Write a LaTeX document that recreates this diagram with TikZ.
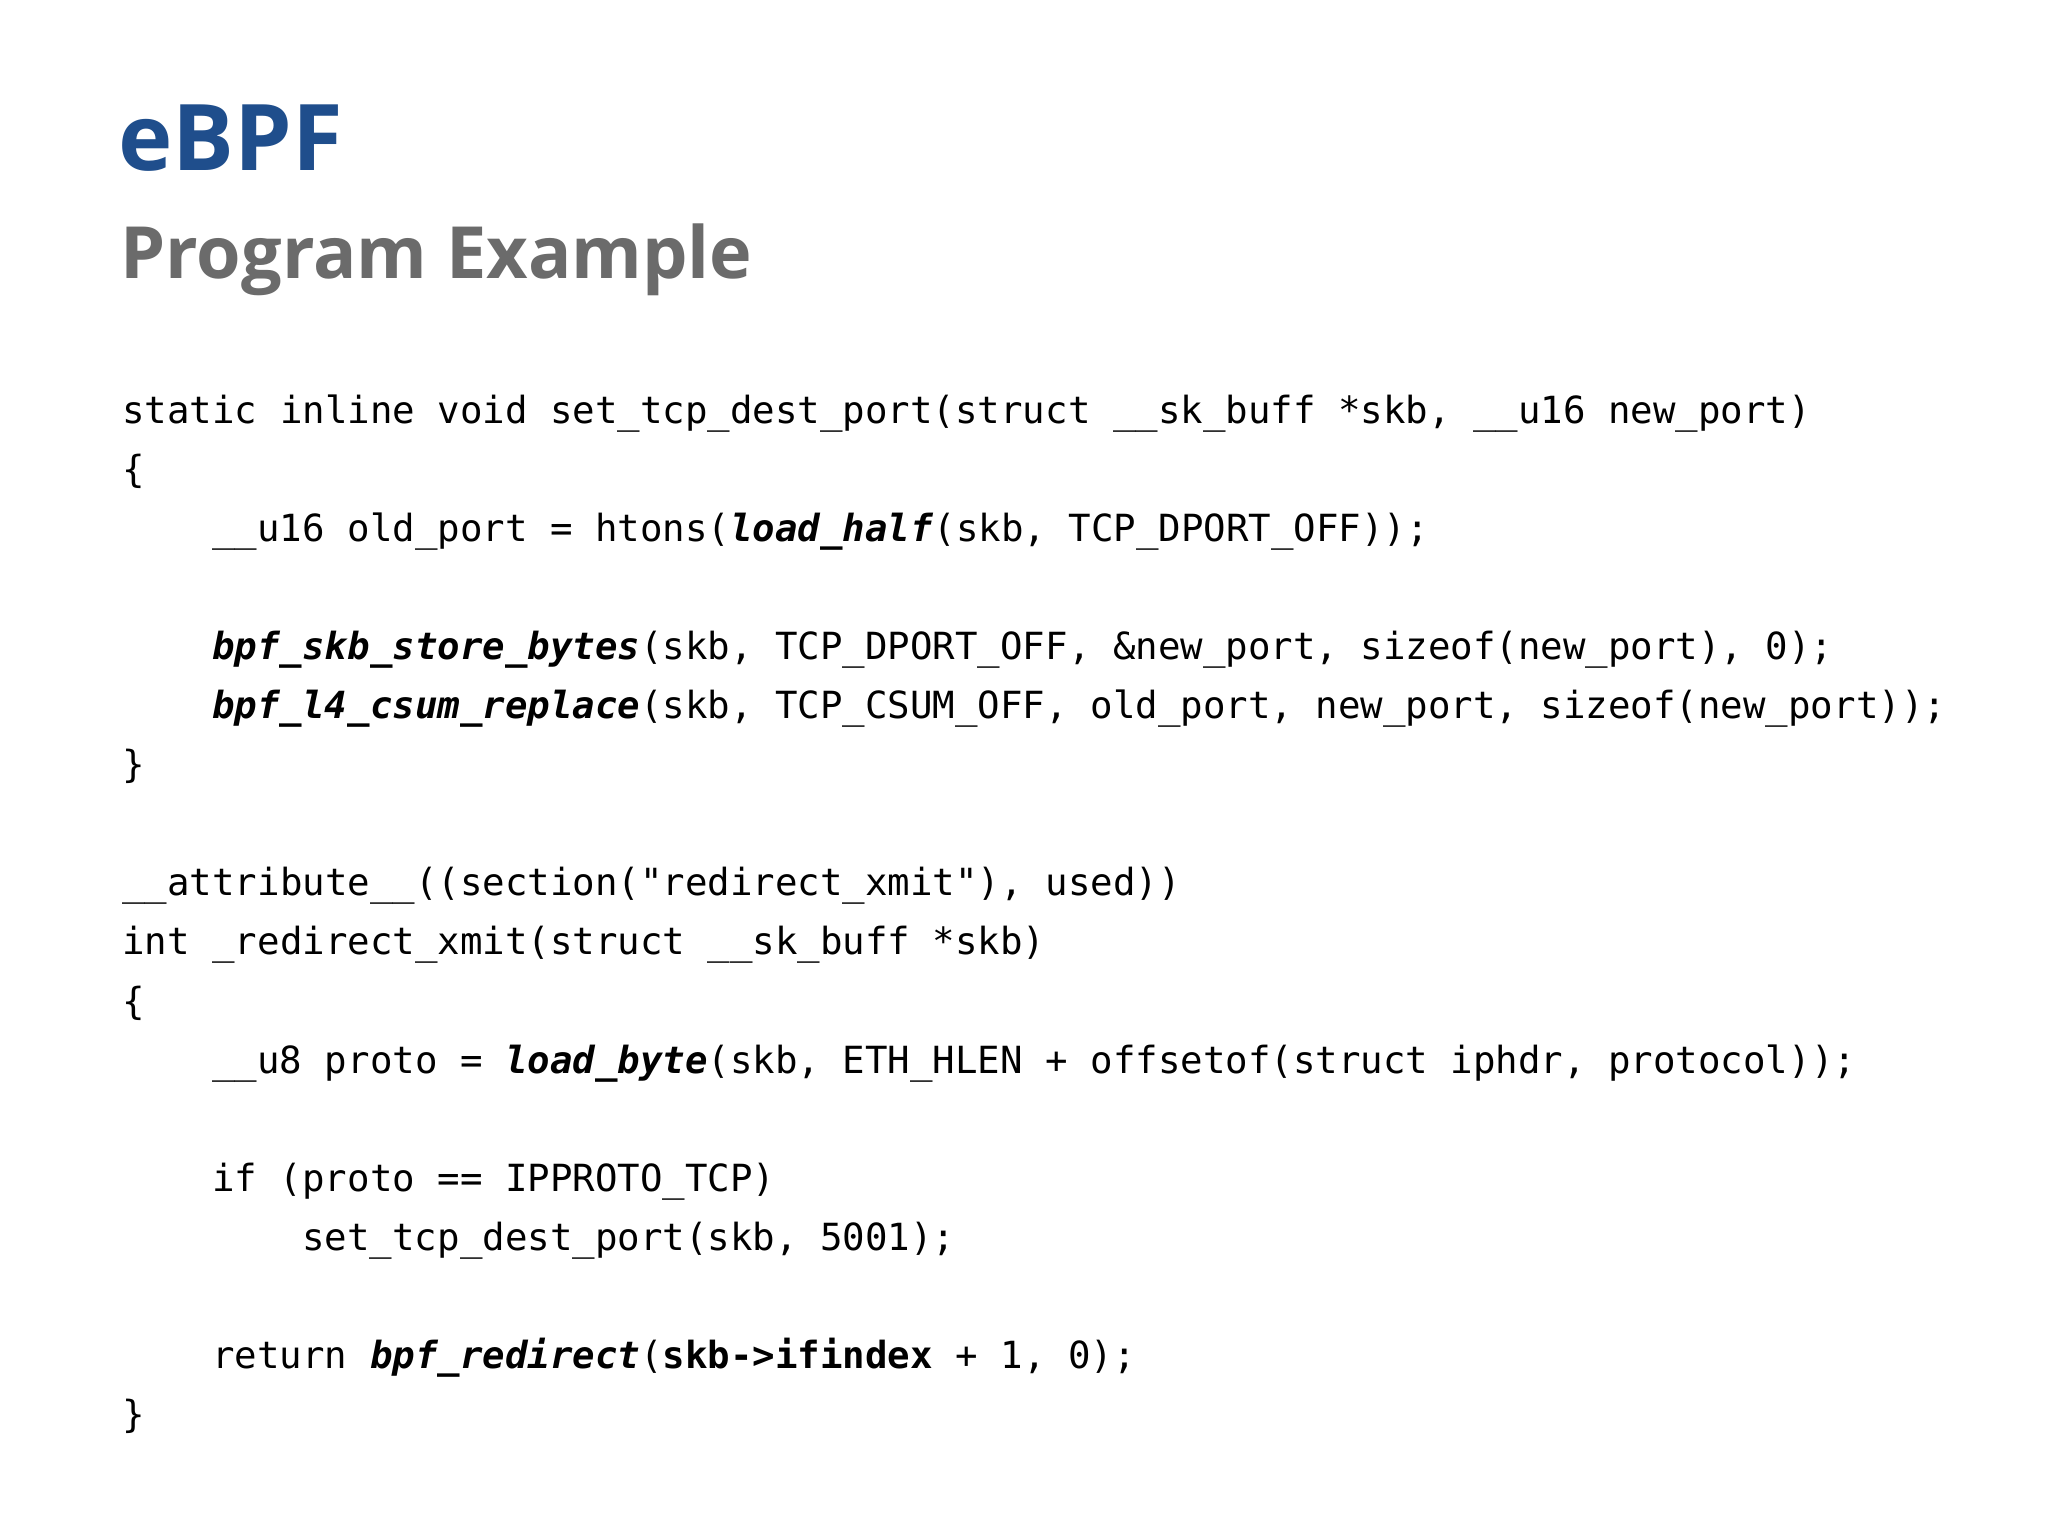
\documentclass[tikz,border=0pt]{standalone}
\usepackage{fontspec}
\setmainfont{Open Sans}
\setmonofont{DejaVu Sans Mono}
\definecolor{titleblue}{HTML}{1F4E8C}
\definecolor{titlegray}{HTML}{6B6B6B}
\newcommand{\fn}[1]{\textbf{\textit{#1}}}
\begin{document}
\begin{tikzpicture}[x=0.5pt,y=-0.5pt,
  code/.style={anchor=base west,inner sep=0pt,font=\ttfamily\fontsize{18.7}{20}\selectfont,text=black}]
\fill[white] (0,0) rectangle (2048,1536);
\useasboundingbox (0,0) rectangle (2048,1536);
\node[anchor=base west,inner sep=0pt,font=\bfseries\fontsize{46}{50}\selectfont,text=titleblue] (t1) at (118,170) {eBPF};
\node[anchor=base west,inner sep=0pt,font=\bfseries\fontsize{36}{40}\selectfont,text=titlegray] (t2) at (120,278) {Program Example};
\def\lh{59.1}
\def\ind{90}
\node[code] (l0) at (122,423) {static inline void set\_tcp\_dest\_port(struct \_\_sk\_buff *skb, \_\_u16 new\_port)};
\node[code] (l1) at (122,423+1*\lh) {\{};
\node[code] (l2) at (122+\ind,423+2*\lh) {\_\_u16 old\_port = htons(\fn{load\_half}(skb, TCP\_DPORT\_OFF));};
\node[code] (l4) at (122+\ind,423+4*\lh) {\fn{bpf\_skb\_store\_bytes}(skb, TCP\_DPORT\_OFF, \&new\_port, sizeof(new\_port), 0);};
\node[code] (l5) at (122+\ind,423+5*\lh) {\fn{bpf\_l4\_csum\_replace}(skb, TCP\_CSUM\_OFF, old\_port, new\_port, sizeof(new\_port));};
\node[code] (l6) at (122,423+6*\lh) {\}};
\node[code] (l8) at (122,423+8*\lh) {\_\_attribute\_\_((section("redirect\_xmit"), used))};
\node[code] (l9) at (122,423+9*\lh) {int \_redirect\_xmit(struct \_\_sk\_buff *skb)};
\node[code] (l10) at (122,423+10*\lh) {\{};
\node[code] (l11) at (122+\ind,423+11*\lh) {\_\_u8 proto = \fn{load\_byte}(skb, ETH\_HLEN + offsetof(struct iphdr, protocol));};
\node[code] (l13) at (122+\ind,423+13*\lh) {if (proto == IPPROTO\_TCP)};
\node[code] (l14) at (122+2*\ind,423+14*\lh) {set\_tcp\_dest\_port(skb, 5001);};
\node[code] (l16) at (122+\ind,423+16*\lh) {return \fn{bpf\_redirect}(\textbf{skb->ifindex} + 1, 0);};
\node[code] (l17) at (122,423+17*\lh) {\}};
\end{tikzpicture}
\end{document}
